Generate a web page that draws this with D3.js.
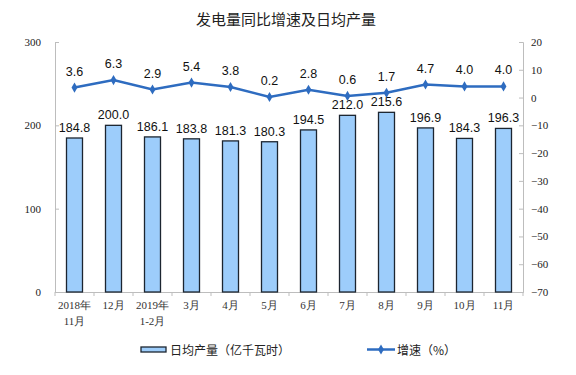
<!DOCTYPE html>
<html>
<head>
<meta charset="utf-8">
<script src="https://cdn.jsdelivr.net/npm/d3@7"></script>
<style>
  body { margin: 0; background: #fff; }
</style>
</head>
<body>
<script>
// data
const months = ['2018年\n11月', '12月', '2019年\n1-2月', '3月', '4月', '5月', '6月', '7月', '8月', '9月', '10月', '11月'];
const dailyOutput = [184.8, 200.0, 186.1, 183.8, 181.3, 180.3, 194.5, 212.0, 215.6, 196.9, 184.3, 196.3];
const growth = [3.6, 6.3, 2.9, 5.4, 3.8, 0.2, 2.8, 0.6, 1.7, 4.7, 4.0, 4.0];
const leftTicks = [0, 100, 200, 300];
const rightTicks = [20, 10, 0, -10, -20, -30, -40, -50, -60, -70];

const width = 576, height = 375;
const margin = {top: 42, right: 53, bottom: 83, left: 55};

const svg = d3.select('body').append('svg')
  .attr('width', width)
  .attr('height', height);

const x = d3.scaleBand()
  .domain(months)
  .range([margin.left, width - margin.right]);

const yLeft = d3.scaleLinear()
  .domain([0, 300])
  .range([height - margin.bottom, margin.top]);

const yRight = d3.scaleLinear()
  .domain([-70, 20])
  .range([height - margin.bottom, margin.top]);

const barColor = '#9dcdfb';
const lineColor = '#2e6cc0';
const axisColor = '#bdbdbd';
const cjk = '"Noto Sans CJK SC", sans-serif';
const tickFont = '"Liberation Serif", "Times New Roman", serif';

// title
svg.append('text')
  .attr('x', 286)
  .attr('y', 25)
  .attr('text-anchor', 'middle')
  .attr('font-family', cjk)
  .attr('font-size', 15)
  .attr('fill', '#222')
  .text('发电量同比增速及日均产量');

// left axis
const gl = svg.append('g')
  .attr('transform', `translate(${margin.left},0)`)
  .call(d3.axisLeft(yLeft).tickValues(leftTicks).tickSize(-4).tickPadding(14));
gl.select('.domain').attr('stroke', axisColor);
gl.selectAll('.tick line').attr('stroke', axisColor);
gl.selectAll('text').attr('font-family', tickFont).attr('font-size', 11).attr('fill', '#222');

// right axis
const gr = svg.append('g')
  .attr('transform', `translate(${width - margin.right},0)`)
  .call(d3.axisRight(yRight).tickValues(rightTicks).tickSize(-4).tickPadding(8));
gr.select('.domain').attr('stroke', axisColor);
gr.selectAll('.tick line').attr('stroke', axisColor);
gr.selectAll('text').attr('font-family', tickFont).attr('font-size', 11).attr('fill', '#222');

// bottom axis
const gb = svg.append('g')
  .attr('transform', `translate(0,${height - margin.bottom})`)
  .call(d3.axisBottom(x).tickSize(0).tickFormat(''));
gb.select('.domain').attr('stroke', axisColor);

// small ticks between categories
svg.append('g')
  .selectAll('line')
  .data(d3.range(months.length + 1))
  .join('line')
  .attr('x1', i => margin.left + i * x.step())
  .attr('x2', i => margin.left + i * x.step())
  .attr('y1', height - margin.bottom)
  .attr('y2', height - margin.bottom + 4)
  .attr('stroke', axisColor);

// category labels, two lines where needed
gb.selectAll('.tick').each(function(d) {
  const t = d3.select(this).append('text')
    .attr('fill', '#333')
    .attr('font-family', tickFont)
    .attr('font-size', 11)
    .attr('text-anchor', 'middle');
  d.split('\n').forEach((s, i) => {
    t.append('tspan').attr('x', 0).attr('y', 17 + i * 16).text(s);
  });
});

// bars
const bw = 16;
svg.append('g')
  .selectAll('rect')
  .data(dailyOutput)
  .join('rect')
  .attr('x', (d, i) => x(months[i]) + x.bandwidth() / 2 - bw / 2)
  .attr('y', d => yLeft(d))
  .attr('width', bw)
  .attr('height', d => yLeft(0) - yLeft(d))
  .attr('fill', barColor)
  .attr('stroke', '#1c2530')
  .attr('stroke-width', 1.3);

svg.append('g')
  .selectAll('text')
  .data(dailyOutput)
  .join('text')
  .attr('x', (d, i) => x(months[i]) + x.bandwidth() / 2)
  .attr('y', d => yLeft(d) - 6)
  .attr('text-anchor', 'middle')
  .attr('font-family', '"Liberation Sans", Arial, sans-serif')
  .attr('font-size', 12.5)
  .attr('fill', '#111')
  .text(d => d.toFixed(1));

// growth line
const line = d3.line()
  .x((d, i) => x(months[i]) + x.bandwidth() / 2)
  .y(d => yRight(d));

svg.append('path')
  .datum(growth)
  .attr('d', line)
  .attr('fill', 'none')
  .attr('stroke', lineColor)
  .attr('stroke-width', 2.5);

svg.append('g')
  .selectAll('path')
  .data(growth)
  .join('path')
  .attr('transform', (d, i) => `translate(${x(months[i]) + x.bandwidth() / 2},${yRight(d)})`)
  .attr('d', d3.symbol(d3.symbolDiamond, 30))
  .attr('fill', lineColor);

svg.append('g')
  .selectAll('text')
  .data(growth)
  .join('text')
  .attr('x', (d, i) => x(months[i]) + x.bandwidth() / 2)
  .attr('y', d => yRight(d) - 12)
  .attr('text-anchor', 'middle')
  .attr('font-family', '"Liberation Sans", Arial, sans-serif')
  .attr('font-size', 12.5)
  .attr('fill', '#111')
  .text(d => d.toFixed(1));

// legend
const lg = svg.append('g').attr('font-family', cjk).attr('font-size', 12).attr('fill', '#222');
lg.append('rect')
  .attr('x', 141).attr('y', 347).attr('width', 25).attr('height', 5)
  .attr('fill', barColor).attr('stroke', '#1c2530').attr('stroke-width', 1.3);
lg.append('text').attr('x', 170).attr('y', 355).text('日均产量（亿千瓦时）');

lg.append('line')
  .attr('x1', 367).attr('x2', 395).attr('y1', 349.5).attr('y2', 349.5)
  .attr('stroke', lineColor).attr('stroke-width', 2.5);
lg.append('path')
  .attr('transform', 'translate(381,349.5)')
  .attr('d', d3.symbol(d3.symbolDiamond, 30))
  .attr('fill', lineColor);
lg.append('text').attr('x', 397).attr('y', 355).text('增速（%）');
</script>
</body>
</html>
